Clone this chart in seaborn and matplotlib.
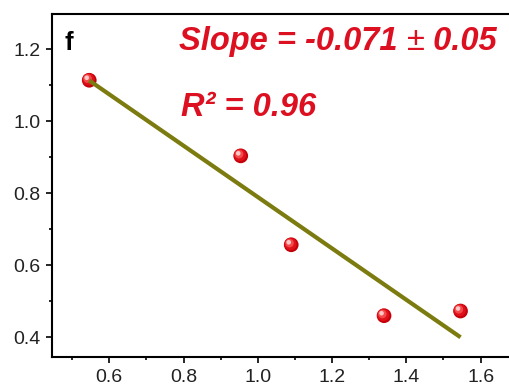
import numpy as np
import pandas as pd
import matplotlib
matplotlib.use("Agg")
import matplotlib.pyplot as plt
from matplotlib.transforms import offset_copy
from matplotlib.ticker import MultipleLocator
import seaborn as sns

# measurements
x_vals = [0.546, 0.954, 1.090, 1.340, 1.546]
y_vals = [1.114, 0.904, 0.657, 0.460, 0.473]

x_ticks = [0.6, 0.8, 1.0, 1.2, 1.4, 1.6]
y_ticks = [0.4, 0.6, 0.8, 1.0, 1.2]

panel_label = "f"
slope_text = ["Slope = -0.071 ", "\u00b1", " 0.05"]
r2_text = "R\u00b2 = 0.96"

df = pd.DataFrame({"x": x_vals, "y": y_vals})

sns.set_theme(style="ticks")
plt.rcParams["font.family"] = ["Liberation Sans", "DejaVu Sans"]

RED = "#dc1020"
OLIVE = "#7b7b10"

fig = plt.figure(figsize=(5.10, 3.85), dpi=100)
ax = fig.add_axes([52.3 / 510, 28.5 / 385, 457.7 / 510, 342.5 / 385])

# shaded spheres: stacked discs shifted toward the upper left
layers = [
    (112, "#c40008", 0.0),
    (78, "#e0101a", 0.8),
    (38, "#f24a4a", 1.7),
    (11, "#ffc8c8", 2.5),
]
for size, col, shift in layers:
    tr = offset_copy(ax.transData, fig=fig, x=-shift, y=shift, units="dots")
    sns.scatterplot(data=df, x="x", y="y", ax=ax, s=size, color=col,
                    edgecolor="none", linewidth=0, transform=tr,
                    zorder=3, legend=False)

# least-squares line over the data range
sns.regplot(data=df, x="x", y="y", ax=ax, scatter=False, ci=None,
            truncate=True, color=OLIVE, line_kws={"lw": 3.0, "zorder": 4,
                                                  "solid_capstyle": "butt"})

ax.set_xlim(0.4465, 1.6792)
ax.set_ylim(0.3467, 1.298)
ax.set_xticks(x_ticks)
ax.set_yticks(y_ticks)
ax.xaxis.set_minor_locator(MultipleLocator(0.1))
ax.yaxis.set_minor_locator(MultipleLocator(0.1))
ax.set_xticklabels([f"{v:.1f}" for v in x_ticks])
ax.set_yticklabels([f"{v:.1f}" for v in y_ticks])
ax.set_xlabel("")
ax.set_ylabel("")

for side in ["left", "bottom", "top"]:
    ax.spines[side].set_linewidth(1.5)
    ax.spines[side].set_color("black")
ax.spines["right"].set_visible(False)

ax.tick_params(which="major", direction="out", length=4.5, width=1.2,
               labelsize=14, labelcolor="#222222", color="black", pad=4.2)
ax.tick_params(which="minor", direction="out", length=2.5, width=1.2,
               color="black")
ax.tick_params(top=False, right=False, which="both")

# panel letter
fig.text(65 / 510, 1 - 50 / 385, panel_label, fontsize=18.5, fontweight="bold",
         color="black", ha="left", va="baseline")

# fit annotations
t1 = fig.text(179 / 510, 1 - 50 / 385, slope_text[0], fontsize=23.5,
              fontweight="bold", fontstyle="italic", color=RED,
              ha="left", va="baseline")
t2 = ax.annotate(slope_text[1], xy=(1, 0), xycoords=t1, fontsize=23.5,
                 color=RED, ha="left", va="bottom")
t3 = ax.annotate(slope_text[2], xy=(1, 0), xycoords=t2, fontsize=23.5,
                 fontweight="bold", fontstyle="italic", color=RED,
                 ha="left", va="bottom")
fig.text(181 / 510, 1 - 116 / 385, r2_text, fontsize=23.5,
         fontweight="bold", fontstyle="italic", color=RED,
         ha="left", va="baseline")

fig.savefig("out.png", dpi=100)
